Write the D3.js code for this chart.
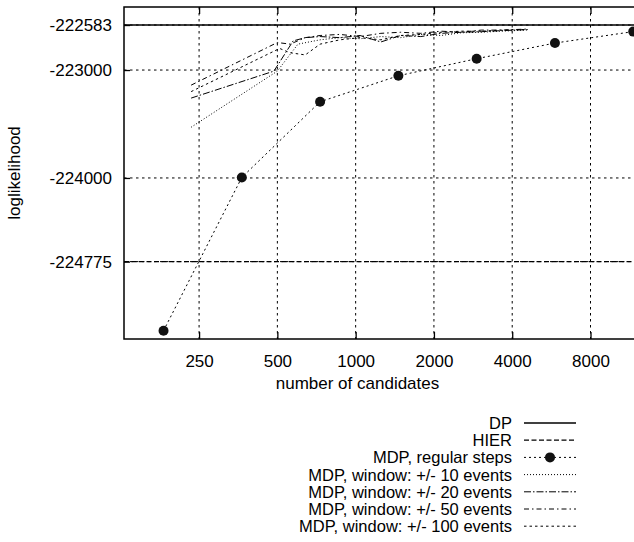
<!DOCTYPE html>
<html><head><meta charset="utf-8">
<script src="https://cdn.jsdelivr.net/npm/d3@7"></script>
<style>body{margin:0;background:#fff}svg{display:block}text{font-family:"Liberation Sans",Arial,Helvetica,sans-serif;fill:#000}</style>
</head><body><svg id="c" width="634" height="542"></svg>
<script>
// ---- data ----
const xTicks = [250, 500, 1000, 2000, 4000, 8000];
const yTicks = [-222583, -223000, -224000, -224775];
const dpValue = -222583;
const hierValue = -224775;
const regularX = [182.5, 365, 730, 1460, 2920, 5840, 11680];
const regularY = [-225415, -223995, -223294, -223053, -222895, -222750, -222644];
const w10X = [233, 500, 600, 730, 870, 1040, 1250, 1490, 1780, 2130, 2540, 3040, 3630, 4550];
const w10Y = [-223530, -223010, -222760, -222720, -222700, -222710, -222690, -222700, -222670, -222680, -222655, -222650, -222640, -222630];
const w20X = [233, 485, 575, 640, 730, 870, 1040, 1250, 1490, 1780, 2130, 2540, 3040, 3630, 4600];
const w20Y = [-223260, -223010, -222730, -222700, -222690, -222700, -222680, -222740, -222680, -222690, -222660, -222650, -222645, -222635, -222625];
const w50X = [233, 500, 560, 640, 730, 870, 1040, 1250, 1490, 1780, 2130, 2540, 3040, 3630, 4600];
const w50Y = [-223140, -222745, -222760, -222700, -222680, -222670, -222690, -222660, -222650, -222660, -222640, -222650, -222630, -222630, -222620];
const w100X = [233, 510, 560, 640, 730, 870, 1040, 1250, 1490, 1780, 2130, 2540, 3040, 3630, 4500];
const w100Y = [-223200, -222800, -222840, -222860, -222760, -222720, -222700, -222720, -222680, -222670, -222650, -222640, -222640, -222630, -222625];
const legendLabels = ["DP", "HIER", "MDP, regular steps", "MDP, window: +/- 10 events", "MDP, window: +/- 20 events", "MDP, window: +/- 50 events", "MDP, window: +/- 100 events"];
const xTitle = "number of candidates";
const yTitle = "loglikelihood";

// ---- layout ----
const L = 124, R = 640, T = 7, B = 339;
const svg = d3.select("#c");
const x = d3.scaleLog().base(2).domain([128.6, 12400]).range([L, R]);
const y = d3.scaleLinear().domain([-225492, -222416]).range([B, T]);
const FS = 17;
const fmt = d => String(d);

// grid
const g = svg.append("g");
g.selectAll(".vg").data(xTicks).enter().append("line")
  .attr("x1", d => x(d)).attr("x2", d => x(d)).attr("y1", T).attr("y2", B)
  .attr("stroke", "#000").attr("stroke-width", 1).attr("stroke-dasharray", "2.5,3.5");
g.selectAll(".hg").data(yTicks).enter().append("line")
  .attr("x1", L).attr("x2", R).attr("y1", d => y(d)).attr("y2", d => y(d))
  .attr("stroke", "#000").attr("stroke-width", 1).attr("stroke-dasharray", "2.5,3.5");

// axes (inward ticks)
const ax = svg.append("g").attr("transform", `translate(0,${B})`)
  .call(d3.axisBottom(x).tickValues(xTicks).tickSizeInner(-7).tickSizeOuter(0).tickPadding(16).tickFormat(fmt));
const axTop = svg.append("g").attr("transform", `translate(0,${T})`)
  .call(d3.axisTop(x).tickValues(xTicks).tickSizeInner(-7).tickSizeOuter(0).tickFormat(""));
const ay = svg.append("g").attr("transform", `translate(${L},0)`)
  .call(d3.axisLeft(y).tickValues(yTicks).tickSizeInner(-6).tickSizeOuter(0).tickPadding(12).tickFormat(fmt));
[ax, axTop, ay].forEach(a => {
  a.select(".domain").remove();
  a.selectAll(".tick line").attr("stroke", "#000").attr("stroke-width", 1.3);
  a.selectAll("text").attr("font-size", FS).attr("font-family", "Liberation Sans, Arial, sans-serif").attr("fill", "#000");
});
// frame
svg.append("rect").attr("x", L).attr("y", T).attr("width", R - L).attr("height", B - T)
  .attr("fill", "none").attr("stroke", "#000").attr("stroke-width", 1.5);

// titles
svg.append("text").attr("x", (L + 591) / 2).attr("y", 389).attr("text-anchor", "middle")
  .attr("font-size", FS).text(xTitle);
svg.append("text").attr("transform", `translate(20,${(T + B) / 2}) rotate(-90)`).attr("text-anchor", "middle")
  .attr("font-size", FS).text(yTitle);

// series
const styles = [
  {dash: null, w: 1.6},
  {dash: "5,2.5", w: 1.2},
  {dash: "2,3", w: 1},
  {dash: "1,2", w: 1},
  {dash: "7,2,1.5,2", w: 1},
  {dash: "5,3,1.5,3", w: 1},
  {dash: "2.5,3", w: 1}
];
const line = d3.line().x(d => x(d[0])).y(d => y(d[1]));
const plot = svg.append("g");
function draw(xs, ys, st) {
  plot.append("path").datum(xs.map((v, i) => [v, ys[i]])).attr("d", line)
    .attr("fill", "none").attr("stroke", "#000").attr("stroke-width", st.w)
    .attr("stroke-dasharray", st.dash);
}
plot.append("line").attr("x1", L).attr("x2", R).attr("y1", y(dpValue)).attr("y2", y(dpValue))
  .attr("stroke", "#000").attr("stroke-width", styles[0].w);
plot.append("line").attr("x1", L).attr("x2", R).attr("y1", y(hierValue)).attr("y2", y(hierValue))
  .attr("stroke", "#000").attr("stroke-width", styles[1].w).attr("stroke-dasharray", styles[1].dash);
draw(regularX, regularY, styles[2]);
draw(w10X, w10Y, styles[3]);
draw(w20X, w20Y, styles[4]);
draw(w50X, w50Y, styles[5]);
draw(w100X, w100Y, styles[6]);
plot.selectAll(".pt").data(regularX.map((v, i) => [v, regularY[i]])).enter().append("circle")
  .attr("cx", d => x(d[0])).attr("cy", d => y(d[1])).attr("r", 5).attr("fill", "#111");

// legend
const lg = svg.append("g");
legendLabels.forEach((lab, i) => {
  const cy = 423 + i * 17.2;
  lg.append("text").attr("x", 512).attr("y", cy + 6).attr("text-anchor", "end").attr("font-size", 16.5).text(lab);
  lg.append("line").attr("x1", 524).attr("x2", 576).attr("y1", cy).attr("y2", cy)
    .attr("stroke", "#000").attr("stroke-width", styles[i].w).attr("stroke-dasharray", styles[i].dash);
  if (i === 2) lg.append("circle").attr("cx", 550).attr("cy", cy).attr("r", 5).attr("fill", "#111");
});
</script></body></html>
